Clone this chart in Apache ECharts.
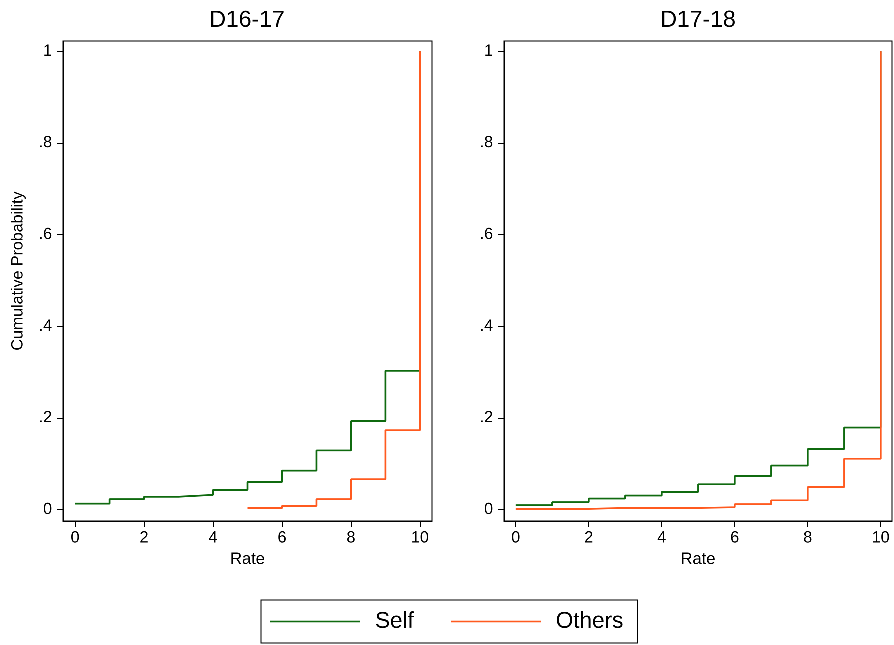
<!DOCTYPE html>
<html>
<head>
<meta charset="utf-8">
<script src="https://cdn.jsdelivr.net/npm/echarts@6/dist/echarts.min.js"></script>
<style>
html,body{margin:0;padding:0;background:#fff;}
#chart{width:894px;height:645px;}
</style>
</head>
<body>
<div id="chart"></div>
<script>
// ---- data ----
const panelTitles = ['D16-17', 'D17-18'];
const rates = [0, 1, 2, 3, 4, 5, 6, 7, 8, 9, 10];
const selfD1617 = [0.013, 0.0225, 0.028, 0.032, 0.043, 0.060, 0.085, 0.129, 0.193, 0.303, 1];
const othersRatesD1617 = [5, 6, 7, 8, 9, 10];
const othersD1617 = [0.003, 0.008, 0.0225, 0.066, 0.173, 1];
const selfD1718 = [0.0094, 0.016, 0.024, 0.0306, 0.0385, 0.055, 0.073, 0.096, 0.132, 0.179, 1];
const othersD1718 = [0.0015, 0.0015, 0.0035, 0.0035, 0.0035, 0.005, 0.0116, 0.020, 0.049, 0.111, 1];
const xTicks = [0, 2, 4, 6, 8, 10];
const yTicks = [0, 0.2, 0.4, 0.6, 0.8, 1];
const yTickLabels = ['0', '.2', '.4', '.6', '.8', '1'];
const seriesNames = ['Self', 'Others'];

const GREEN = '#0f6a0f';
const ORANGE = '#ff5a1f';
const FONT = 'Liberation Sans, Arial, sans-serif';

function pairs(xs, ys) { return xs.map((x, i) => [x, ys[i]]); }

// higher internal resolution so tiny (sub-2px) steps are not merged into slopes
const chart = echarts.init(document.getElementById('chart'), null, { devicePixelRatio: 4 });

const grids = [
  { left: 63, right: 462, top: 41, bottom: 124 },
  { left: 504, right: 2, top: 41, bottom: 124 }
].map(g => Object.assign(g, { show: true, borderColor: '#000', borderWidth: 1, backgroundColor: '#fff', containLabel: false }));

const xRanges = [[-0.35, 10.35], [-0.32, 10.31]];

const xAxes = [0, 1].map(i => ({
  type: 'value', gridIndex: i, min: xRanges[i][0], max: xRanges[i][1],
  name: 'Rate', nameLocation: 'middle', nameGap: 29,
  nameTextStyle: { fontFamily: FONT, fontSize: 16.5, color: '#000' },
  axisLine: { show: true, onZero: false, lineStyle: { color: '#000', width: 1 } },
  axisTick: { show: true, length: 6, customValues: xTicks, lineStyle: { color: '#000' } },
  axisLabel: { customValues: xTicks, margin: 9, fontFamily: FONT, fontSize: 16, color: '#000' },
  splitLine: { show: false }
}));

const yAxes = [0, 1].map(i => ({
  type: 'value', gridIndex: i, min: -0.025, max: 1.0225,
  name: i === 0 ? 'Cumulative Probability' : '', nameLocation: 'middle', nameGap: 37,
  nameTextStyle: { fontFamily: FONT, fontSize: 16, color: '#000', padding: [0, 0, 0, 20] },
  axisLine: { show: true, onZero: false, lineStyle: { color: '#000', width: 1 } },
  axisTick: { show: true, length: 6, customValues: yTicks, lineStyle: { color: '#000' } },
  axisLabel: {
    customValues: yTicks, margin: 11, fontFamily: FONT, fontSize: 16, color: '#000',
    formatter: v => { const k = yTicks.findIndex(t => Math.abs(t - v) < 1e-9); return k >= 0 ? yTickLabels[k] : ''; }
  },
  splitLine: { show: false }
}));

function stepSeries(name, color, i, data) {
  return {
    name, type: 'line', step: 'end', xAxisIndex: i, yAxisIndex: i,
    data, symbol: 'none', showSymbol: false, silent: true, animation: false,
    lineStyle: { color, width: 1.8 }, itemStyle: { color }
  };
}

const titleStyle = { fontFamily: FONT, fontSize: 23, fontWeight: 'normal', color: '#000' };

chart.setOption({
  animation: false,
  title: [
    { text: panelTitles[0], left: 247, top: 9, padding: 0, textAlign: 'center', textStyle: titleStyle },
    { text: panelTitles[1], left: 698, top: 9, padding: 0, textAlign: 'center', textStyle: titleStyle }
  ],
  grid: grids,
  xAxis: xAxes,
  yAxis: yAxes,
  legend: {
    data: seriesNames.map(n => ({ name: n, icon: 'path://M0,0L1,0L1,0.02L0,0.02Z' })),
    left: 261, top: 600, orient: 'horizontal',
    itemWidth: 90, itemHeight: 2, itemGap: 37,
    padding: [10, 14, 10, 9],
    borderColor: '#000', borderWidth: 1,
    textStyle: { fontFamily: FONT, fontSize: 22.5, color: '#000', padding: [0, 0, 0, 10] },
    selectedMode: false
  },
  series: [
    stepSeries(seriesNames[0], GREEN, 0, pairs(rates, selfD1617)),
    stepSeries(seriesNames[1], ORANGE, 0, pairs(othersRatesD1617, othersD1617)),
    stepSeries(seriesNames[0], GREEN, 1, pairs(rates, selfD1718)),
    stepSeries(seriesNames[1], ORANGE, 1, pairs(rates, othersD1718))
  ]
});
</script>
</body>
</html>
